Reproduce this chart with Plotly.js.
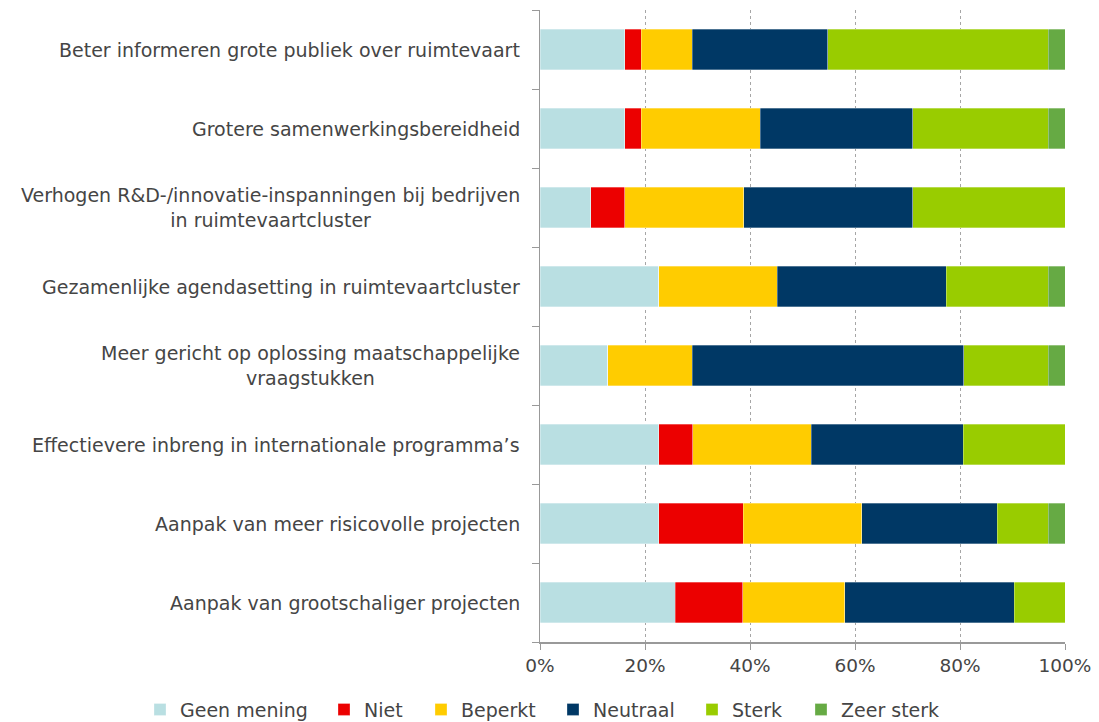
<!DOCTYPE html>
<html>
<head>
<meta charset="utf-8">
<script src="https://cdn.plot.ly/plotly-3.0.1.min.js"></script>
<style>html,body{margin:0;padding:0;background:#fff;}#chart{width:1099px;height:722px;}</style>
</head>
<body>
<div id="chart"></div>
<script>
const categories = [
  "Beter informeren grote publiek over ruimtevaart",
  "Grotere samenwerkingsbereidheid",
  "Verhogen R&D-/innovatie-inspanningen bij bedrijven<br>in ruimtevaartcluster",
  "Gezamenlijke agendasetting in ruimtevaartcluster",
  "Meer gericht op oplossing maatschappelijke<br>vraagstukken",
  "Effectievere inbreng in internationale programma\u2019s",
  "Aanpak van meer risicovolle projecten",
  "Aanpak van grootschaliger projecten"
];
const seriesNames = ["Geen mening", "Niet", "Beperkt", "Neutraal", "Sterk", "Zeer sterk"];
const geenMening = [16.1, 16.1, 9.7, 22.6, 12.9, 22.6, 22.6, 25.8];
const niet       = [3.2, 3.2, 6.5, 0, 0, 6.5, 16.1, 12.9];
const beperkt    = [9.7, 22.6, 22.6, 22.6, 16.1, 22.6, 22.6, 19.4];
const neutraal   = [25.8, 29.0, 32.3, 32.3, 51.6, 29.0, 25.8, 32.3];
const sterk      = [41.9, 25.8, 29.0, 19.4, 16.1, 19.4, 9.7, 9.7];
const zeerSterk  = [3.2, 3.2, 0, 3.2, 3.2, 0, 3.2, 0];
const xTickVals = [0, 20, 40, 60, 80, 100];
const xTickText = ["0%", "20%", "40%", "60%", "80%", "100%"];

const colors = ["#b9dfe2", "#ec0000", "#ffcc00", "#003865", "#99cc00", "#66aa44"];
const allSeries = [geenMening, niet, beperkt, neutraal, sterk, zeerSterk];
const idx = categories.map((c, i) => i);
const FONT = "DejaVu Sans, Verdana, sans-serif";
const TXT = "#454545";

// layout: left edges (px) of each legend entry's text, and plot geometry
const plotLeft = 540, plotWidth = 525;
const legendTextLeft = [180, 364, 461, 593, 732, 841];
const legendIndent = -12;
const textGap = legendIndent + 30 + 10;

const legendKey = k => (k === 0 ? "legend" : "legend" + (k + 1));

const traces = allSeries.map((vals, k) => ({
  type: "bar",
  orientation: "h",
  name: seriesNames[k],
  legend: legendKey(k),
  x: vals,
  y: idx,
  marker: {color: colors[k], line: {color: "rgba(255,255,255,0.5)", width: 0.6}},
  hoverinfo: "x+name"
}));

const annotations = categories.map((c, i) => ({
  xref: "paper", yref: "y", x: 0, y: i,
  xanchor: "right", yanchor: "middle", xshift: -18,
  align: "center", showarrow: false, text: c,
  font: {family: FONT, size: 19, color: TXT}
}));

const layout = {
  width: 1099, height: 722,
  margin: {l: plotLeft, r: 1099 - plotLeft - plotWidth, t: 10, b: 80, pad: 0, autoexpand: false},
  barmode: "stack",
  barnorm: "percent",
  bargap: 0.49,
  paper_bgcolor: "#ffffff",
  plot_bgcolor: "#ffffff",
  font: {family: FONT, size: 18, color: TXT},
  showlegend: true,
  xaxis: {
    range: [0, 100], tickvals: xTickVals, ticktext: xTickText,
    showgrid: true, gridcolor: "#a6a6a6", griddash: "dot", gridwidth: 1,
    showline: true, linecolor: "#999999", linewidth: 1.5,
    ticks: "outside", ticklen: 6, tickcolor: "#999999",
    zeroline: false, fixedrange: true, automargin: false,
    tickfont: {family: FONT, size: 18.5, color: TXT}
  },
  yaxis: {
    type: "category", autorange: "reversed",
    tickvals: idx, showticklabels: false,
    tickson: "boundaries", ticks: "outside", ticklen: 7, tickcolor: "#999999",
    showline: true, linecolor: "#999999", linewidth: 1.5,
    showgrid: false, zeroline: false, fixedrange: true, automargin: false
  },
  annotations: annotations
};

legendTextLeft.forEach((tx, k) => {
  layout[legendKey(k)] = {
    orientation: "h", xref: "paper", yref: "paper",
    x: (tx - textGap - plotLeft) / plotWidth, xanchor: "left",
    y: -0.137, yanchor: "bottom",
    indentation: legendIndent, itemwidth: 30,
    bgcolor: "rgba(0,0,0,0)",
    font: {family: FONT, size: 19, color: TXT}
  };
});

Plotly.newPlot("chart", traces, layout, {displayModeBar: false, staticPlot: true});
</script>
</body>
</html>
